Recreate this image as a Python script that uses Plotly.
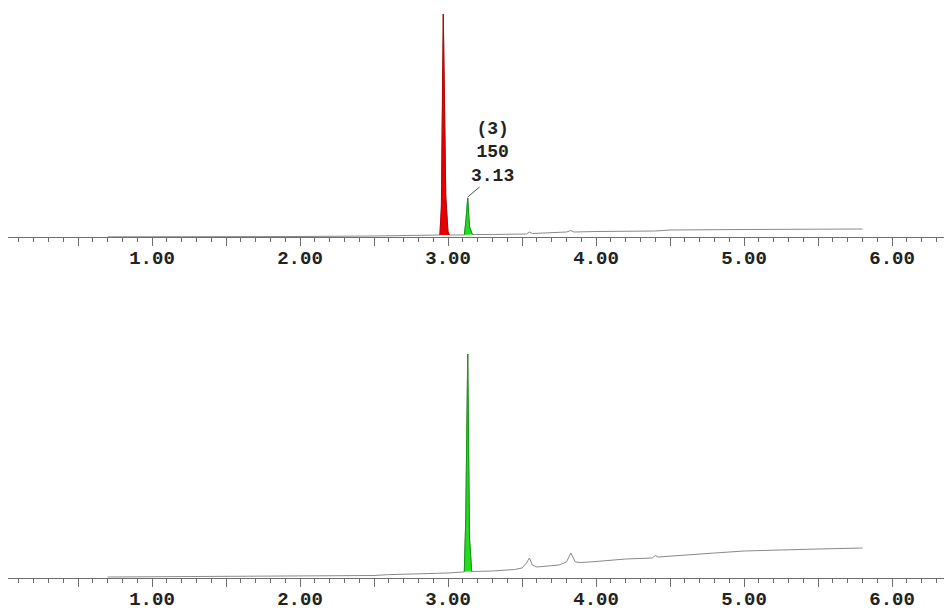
import plotly.graph_objects as go

# ---------------- data (retention time in min, detector response in arbitrary units) -------------
top_time = [0.70, 1.00, 1.50, 2.00, 2.50, 2.85, 2.945, 2.955, 2.968, 2.985, 3.00, 3.01,
            3.10, 3.11, 3.12, 3.133, 3.145, 3.165, 3.30, 3.50, 3.53, 3.55, 3.57,
            3.80, 3.83, 3.85, 4.00, 4.40, 4.50, 5.00, 5.50, 5.80]
top_resp = [0.2, 0.2, 0.3, 0.5, 1.0, 2.0, 2.0, 30.0, 223.0, 40.0, 5.0, 2.0,
            2.0, 2.0, 15.0, 39.0, 10.0, 2.5, 2.5, 3.0, 3.0, 5.0, 3.5,
            5.0, 6.5, 5.0, 5.5, 6.0, 7.0, 7.5, 8.0, 8.0]

bot_time = [0.70, 1.00, 1.50, 2.00, 2.50, 2.59, 2.80, 3.00, 3.10, 3.11, 3.12, 3.133,
            3.145, 3.16, 3.30, 3.45, 3.50, 3.53, 3.55, 3.57, 3.60, 3.75, 3.80,
            3.83, 3.86, 3.90, 4.00, 4.20, 4.38, 4.40, 4.42, 4.50, 4.80, 5.00,
            5.20, 5.50, 5.80]
bot_resp = [1.0, 1.2, 1.5, 1.8, 2.5, 3.3, 4.0, 5.0, 6.0, 6.2, 60.0, 224.0,
            40.0, 6.5, 7.0, 8.5, 10.0, 15.0, 20.0, 13.0, 11.0, 13.0, 16.0,
            25.0, 16.0, 15.5, 16.5, 19.0, 20.0, 22.5, 21.0, 22.0, 25.0, 27.0,
            28.0, 29.0, 30.0]

# integrated peaks: (start, end) windows
top_peaks = [(2.945, 3.01, "#e60000", "#c00000"), (3.11, 3.165, "#22dd22", "#119911")]
bot_peaks = [(3.11, 3.16, "#22dd22", "#119911")]

peak_label = "(3)<br>150<br>3.13"
label_peak_time = 3.133
label_peak_resp = 39.0

tick_vals = [0.5, 1.0, 1.5, 2.0, 2.5, 3.0, 3.5, 4.0, 4.5, 5.0, 5.5, 6.0]
tick_text = ["", "1.00", "", "2.00", "", "3.00", "", "4.00", "", "5.00", "", "6.00"]

# ---------------- figure -------------------------------------------------------------------------
# page body has an 8px margin, so the figure is sized/positioned to compensate
W, H = 944, 602
fig = go.Figure()

def add_chrom(t, r, peaks, xa, ya):
    fig.add_trace(go.Scatter(x=t, y=r, mode="lines", line=dict(color="#8a8a8a", width=1),
                             xaxis=xa, yaxis=ya, hoverinfo="skip", showlegend=False))
    for (s, e, fc, lc) in peaks:
        px = [ti for ti in t if s <= ti <= e]
        py = [ri for ti, ri in zip(t, r) if s <= ti <= e]
        fig.add_trace(go.Scatter(x=px, y=py, mode="lines", fill="toself", fillcolor=fc,
                                 line=dict(color=lc, width=1), xaxis=xa, yaxis=ya,
                                 hoverinfo="skip", showlegend=False))

add_chrom(top_time, top_resp, top_peaks, "x", "y")
add_chrom(bot_time, bot_resp, bot_peaks, "x2", "y2")

tick_font = dict(family="Liberation Mono", size=19, color="#222222", weight="bold")
axis_common = dict(range=[0.027, 6.405], showgrid=False, zeroline=False, showline=True,
                   linecolor="#6e6e6e", linewidth=1, ticks="outside", ticklen=8,
                   tickcolor="#6e6e6e", tickwidth=1, tickvals=tick_vals, ticktext=tick_text,
                   tickfont=tick_font, ticklabelstandoff=-5,
                   minor=dict(dtick=0.1, tick0=0, ticklen=4, tickcolor="#6e6e6e",
                              ticks="outside", tickwidth=1))

top_axis_px = 229
bot_axis_px = 570
plot_h = 229

fig.update_layout(
    width=W, height=H,
    margin=dict(l=0, r=0, t=0, b=0, autoexpand=False),
    paper_bgcolor="white", plot_bgcolor="white",
    xaxis=dict(domain=[0, 1], anchor="y", **axis_common),
    xaxis2=dict(domain=[0, 1], anchor="y2", **axis_common),
    yaxis=dict(domain=[1 - top_axis_px / H, 1 - top_axis_px / H + plot_h / H],
               range=[0, plot_h], visible=False),
    yaxis2=dict(domain=[1 - bot_axis_px / H, 1 - bot_axis_px / H + plot_h / H],
                range=[0, plot_h], visible=False),
)

fig.add_annotation(x=3.30, y=85, xref="x", yref="y", text=peak_label, showarrow=False,
                   font=dict(family="Liberation Mono", size=18, color="#222222", weight="bold"),
                   align="center")
fig.add_shape(type="line", xref="x", yref="y",
              x0=label_peak_time, y0=label_peak_resp + 1,
              x1=label_peak_time + 0.08, y1=label_peak_resp + 11,
              line=dict(color="#555555", width=1))

fig.write_html("out.html")
